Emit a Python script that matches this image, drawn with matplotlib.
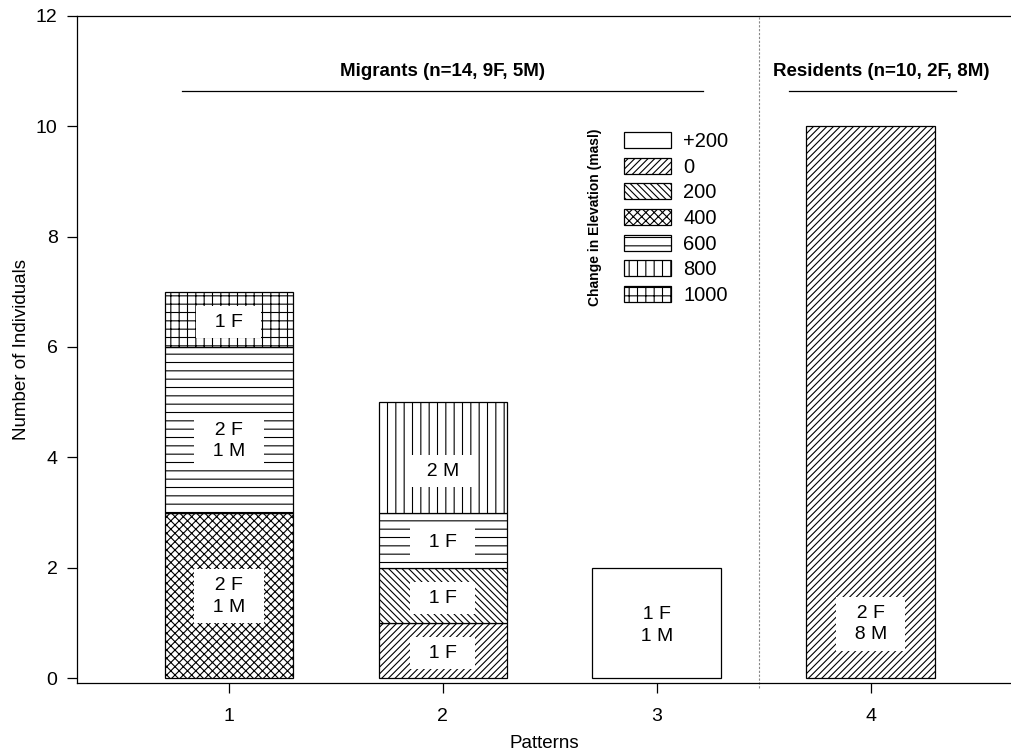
"""
Stacked hatched bars: number of individuals per movement pattern,
split by change in elevation (masl), with sex composition labels.
"""

import matplotlib
matplotlib.use("Agg")
import matplotlib.pyplot as plt
import matplotlib.patches as mpatches

plt.rcParams.update({
    "font.family": ["Liberation Sans", "DejaVu Sans"],
    "font.size": 14,
    "hatch.linewidth": 0.8,
    "axes.linewidth": 0.9,
})

# ---- data ---------------------------------------------------------------
patterns = [1, 2, 3, 4]
elev_classes = ["+200", "0", "200", "400", "600", "800", "1000"]

# individuals per pattern, one list per elevation class (stack order)
n_plus200 = [0, 0, 2, 0]
n_0       = [0, 1, 0, 10]
n_200     = [0, 1, 0, 0]
n_400     = [3, 0, 0, 0]
n_600     = [3, 1, 0, 0]
n_800     = [0, 2, 0, 0]
n_1000    = [1, 0, 0, 0]

# sex composition written on each segment
sex_plus200 = ["", "", "1 F\n1 M", ""]
sex_0       = ["", "1 F", "", "2 F\n8 M"]
sex_200     = ["", "1 F", "", ""]
sex_400     = ["2 F\n1 M", "", "", ""]
sex_600     = ["2 F\n1 M", "1 F", "", ""]
sex_800     = ["", "2 M", "", ""]
sex_1000    = ["1 F", "", "", ""]

group_labels = ["Migrants (n=14, 9F, 5M)", "Residents (n=10, 2F, 8M)"]

counts = [n_plus200, n_0, n_200, n_400, n_600, n_800, n_1000]
sexes = [sex_plus200, sex_0, sex_200, sex_400, sex_600, sex_800, sex_1000]

# ---- style --------------------------------------------------------------
HATCHES = ["", "/////", "\\\\\\\\\\", "xxxx", "--", "||", "++"]
BAR_W = 0.6
# label heights inside the segments, as placed in the original figure
LABEL_Y = {(1, "400"): 1.48, (1, "600"): 4.3, (1, "1000"): 6.45,
           (2, "0"): 0.45, (2, "200"): 1.45, (2, "600"): 2.45,
           (2, "800"): 3.75, (3, "+200"): 0.95, (4, "0"): 0.98}

fig = plt.figure(figsize=(10.11, 7.54), dpi=100)
ax = fig.add_axes([0.0762, 0.0942, 0.9238, 0.8846])

bottoms = [0.0] * len(patterns)
for cls, hatch, vals, labs in zip(elev_classes, HATCHES, counts, sexes):
    for i, (p, v, lab) in enumerate(zip(patterns, vals, labs)):
        if v == 0:
            continue
        ax.bar(p, v, BAR_W, bottom=bottoms[i], facecolor="white",
               edgecolor="black", linewidth=0.9, hatch=hatch, zorder=2)
        if lab:
            txt = "\n".join(f"  {ln}  " for ln in lab.split("\n"))
            ax.text(p, LABEL_Y[(p, cls)], txt, ha="center", va="center",
                    fontsize=14, linespacing=1.35, zorder=3,
                    bbox=dict(boxstyle="square,pad=0.4", facecolor="white",
                              edgecolor="none"))
        bottoms[i] += v

# migrants / residents separator and headers
ax.axvline(3.48, ymin=-0.008, ymax=1, color="#888888", lw=0.8,
           ls=(0, (2, 1.5)), clip_on=False, zorder=1)
ax.text(2.0, 11.0, group_labels[0], ha="center", va="center",
        fontsize=13.5, fontweight="bold")
ax.plot([0.78, 3.216], [10.64, 10.64], color="black", lw=0.9)
ax.text(4.048, 11.0, group_labels[1], ha="center", va="center",
        fontsize=13.5, fontweight="bold")
ax.plot([3.618, 4.40], [10.64, 10.64], color="black", lw=0.9)

# legend
handles = [mpatches.Patch(facecolor="white", edgecolor="black", lw=0.9,
                          hatch=h, label=c)
           for c, h in zip(elev_classes, HATCHES)]
ax.legend(handles=handles, loc="upper left", bbox_to_anchor=(0.5857, 0.826),
          frameon=False, borderpad=0, borderaxespad=0, fontsize=14.5,
          handlelength=2.34, handleheight=0.85, handletextpad=0.6,
          labelspacing=0.33)
ax.text(2.71, 8.36, "Change in Elevation (masl)", rotation=90,
        ha="center", va="center", fontsize=10, fontweight="bold")

# axes
ax.set_xlim(0.291, 4.656)
ax.set_ylim(-0.09, 12)
ax.set_xticks(patterns)
ax.set_yticks(range(0, 13, 2))
ax.spines["right"].set_visible(False)
ax.tick_params(axis="x", direction="out", length=7, width=0.9, pad=11)
ax.tick_params(axis="y", direction="out", length=7, width=0.9, pad=7)
ax.set_xlabel("Patterns", fontsize=13.5, labelpad=7)
ax.set_ylabel("Number of Individuals", fontsize=13.5, labelpad=4)

fig.savefig("out.png", dpi=100)
